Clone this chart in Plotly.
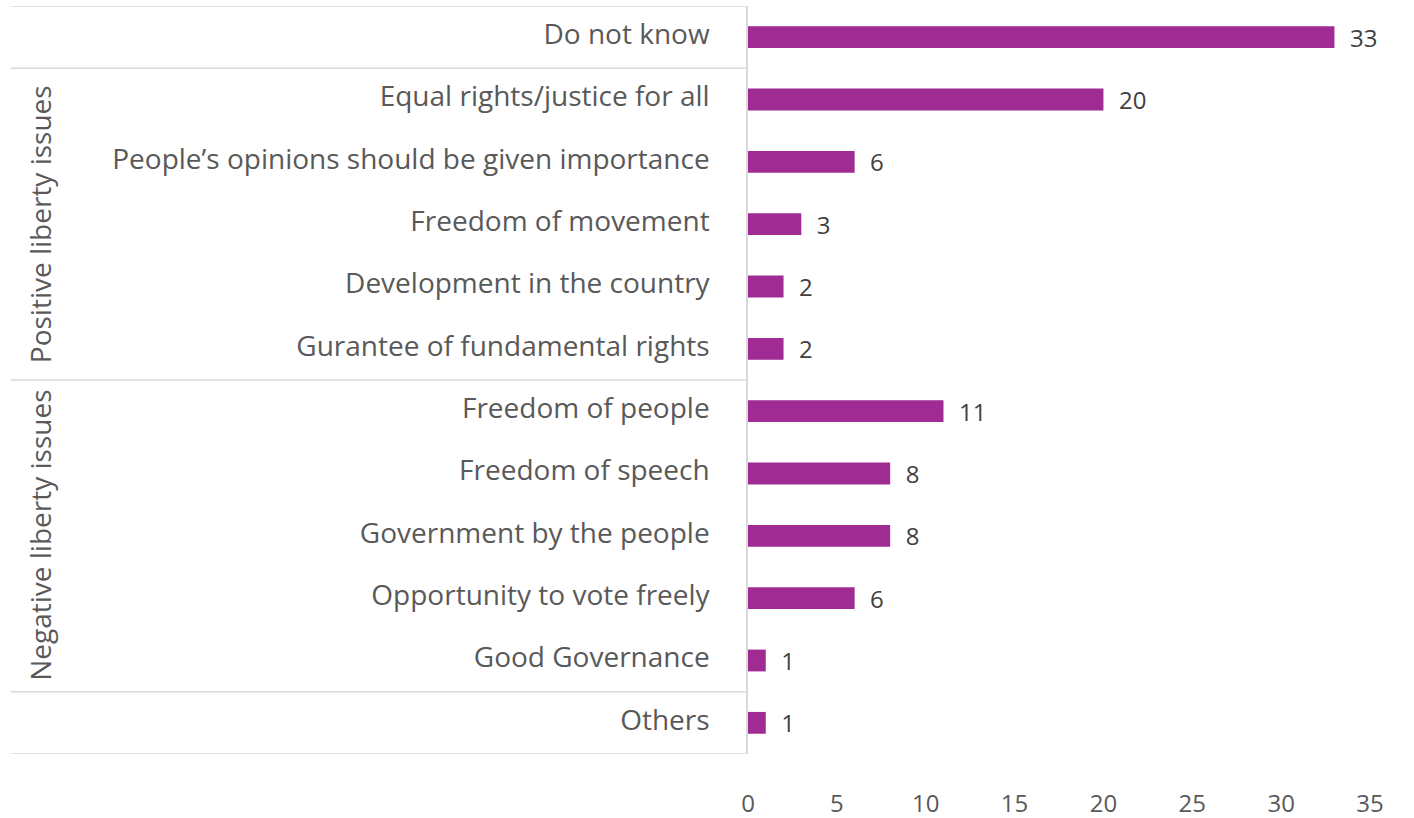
import plotly.graph_objects as go

# Survey responses: what the word "democracy" means (percent)
categories = [
    "Do not know",
    "Equal rights/justice for all",
    "People\u2019s opinions should be given importance",
    "Freedom of movement",
    "Development in the country",
    "Gurantee of fundamental rights",
    "Freedom of people",
    "Freedom of speech",
    "Government by the people",
    "Opportunity to vote freely",
    "Good Governance",
    "Others",
]
values = [33, 20, 6, 3, 2, 2, 11, 8, 8, 6, 1, 1]

# Category groups: (label, first index, last index)
groups = [
    ("Positive liberty issues", 1, 5),
    ("Negative liberty issues", 6, 10),
]

x_ticks = [0, 5, 10, 15, 20, 25, 30, 35]

BAR = "#A02B93"
LINE = "#D9D9D9"
LABEL = "#595959"
FONT = "'Open Sans', Lato, sans-serif"
FS = 28

W, H = 1414, 818
ML, MR, MT, MB = 748, 44, 6, 64
plot_w = W - ML - MR


def px_to_paper(px):
    return (px - ML) / plot_w


fig = go.Figure(
    go.Bar(
        y=list(range(len(categories))),
        x=values,
        orientation="h",
        marker=dict(color=BAR, line=dict(width=0)),
        width=0.35,
        text=[f"  {v}" for v in values],
        textposition="outside",
        constraintext="none",
        textfont=dict(family=FONT, size=24, color="#404040"),
        cliponaxis=False,
        hoverinfo="x+y",
    )
)

# Horizontal separators of the category table
sep_rows = [-0.5, 0.5, groups[0][2] + 0.5, groups[1][2] + 0.5, len(categories) - 0.5]
for r in sep_rows:
    fig.add_shape(
        type="line", xref="paper", yref="y",
        x0=px_to_paper(11), x1=0, y0=r, y1=r,
        line=dict(color=LINE, width=1.5),
    )

# Group titles, rotated
for name, a, b in groups:
    fig.add_annotation(
        xref="paper", yref="y", x=px_to_paper(40), y=(a + b) / 2,
        text=name, textangle=-90, showarrow=False,
        font=dict(family=FONT, size=FS, color=LABEL),
        xanchor="center", yanchor="middle",
    )

fig.update_layout(
    width=W, height=H,
    margin=dict(l=ML, r=MR, t=MT, b=MB),
    paper_bgcolor="white", plot_bgcolor="white",
    showlegend=False,
    bargap=0.65,
    font=dict(family=FONT, color=LABEL),
    xaxis=dict(
        range=[0, 35], tickvals=x_ticks,
        showgrid=False, zeroline=False, showline=False,
        tickfont=dict(family=FONT, size=24, color=LABEL),
        ticks="", ticklabelstandoff=33,
        automargin=False, fixedrange=True,
    ),
    yaxis=dict(
        range=[len(categories) - 0.5, -0.5],
        tickvals=list(range(len(categories))),
        ticktext=categories,
        showgrid=False, zeroline=False,
        showline=True, linecolor=LINE, linewidth=1.5,
        ticks="", ticklabelstandoff=31, ticklabelshift=3,
        tickfont=dict(family=FONT, size=FS, color=LABEL),
        automargin=False, fixedrange=True,
    ),
)

fig.write_html("out.html")
